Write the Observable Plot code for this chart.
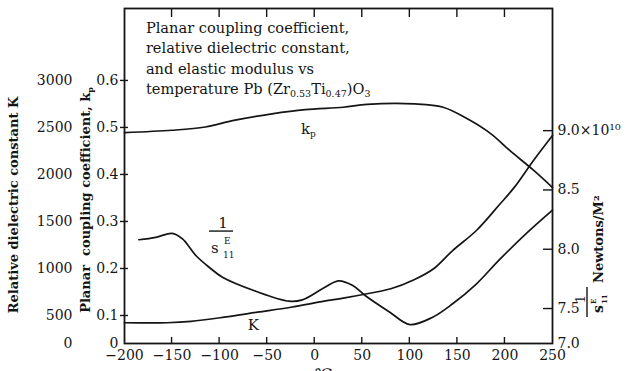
<!DOCTYPE html>
<html><head><meta charset="utf-8">
<script src="https://cdn.jsdelivr.net/npm/d3@7"></script>
<script src="https://cdn.jsdelivr.net/npm/@observablehq/plot@0.6"></script>
<style>
html,body{margin:0;padding:0;background:#fff;}
#wrap{position:relative;width:626px;height:371px;overflow:hidden;background:#fff;}
#wrap svg{position:absolute;left:0;top:0;}
</style></head><body><div id="wrap"></div>
<script>
// ---------- data ----------
// Planar coupling coefficient kp vs temperature (°C)
const kpTemp  = [-200, -150, -115, -85, -45, -10, 30, 55, 105, 135, 160, 185, 205, 230, 250];
const kpValue = [0.489, 0.494, 0.501, 0.515, 0.529, 0.538, 0.543, 0.549, 0.550, 0.543, 0.519, 0.487, 0.451, 0.409, 0.372];
// Relative dielectric constant K vs temperature
const kTemp  = [-200, -155, -130, -95, -60, -25, 10, 30, 55, 80, 105, 125, 145, 170, 195, 210, 230, 250];
const kValue = [370, 370, 395, 470, 535, 588, 652, 684, 731, 784, 883, 997, 1191, 1404, 1688, 1865, 2149, 2415];
// Elastic modulus 1/s^E_11 (×10^10 N/m²) vs temperature
const sTemp  = [-185, -167, -150, -139, -125, -111, -97, -62, -27, -13, 8, 25, 40, 53, 79, 100, 124, 145, 169, 194, 222, 250];
const sValue = [8.08, 8.10, 8.134, 8.087, 7.947, 7.848, 7.764, 7.646, 7.562, 7.573, 7.666, 7.733, 7.694, 7.61, 7.447, 7.271, 7.376, 7.54, 7.70, 7.91, 8.13, 8.33];

const xTicks = [-200, -150, -100, -50, 0, 50, 100, 150, 200, 250];
const xTickLabels = ["−200", "−150", "−100", "−50", "0", "50", "100", "150", "200", "250"];
const kTicks = [0, 500, 1000, 1500, 2000, 2500, 3000];
const kTickLabels = ["0", "500", "1000", "1500", "2000", "2500", "3000"];
const kpTickLabels = ["0", "0.1", "0.2", "0.3", "0.4", "0.5", "0.6"];
const modTicks = [7.0, 7.5, 8.0, 8.5, 9.0];
const modTickLabels = ["7.0", "7.5", "8.0", "8.5", "9.0×10¹⁰"];
const titleLines = ["Planar coupling coefficient,", "relative dielectric constant,", "and elastic modulus vs"];
const K_PER_KP = 5000; // left axes: K = 5000 · kp

// ---------- layout ----------
const W = 626, H = 371, INK = "#151515";
const ML = 124, MR = 74, MT = 8, MB = 28;
const XR = [ML, W - MR];
const FONT = "DejaVu Serif";

// both vertical axes are compressed below their first tick (0→500 and 7.0→7.5)
const squeeze = (brk, f) => v => (v >= brk ? v : brk - (brk - v) * f);
const leftT = squeeze(500, 28 / 47);
const rightT = squeeze(7.5, 35 / 59.35);

const kpRows = kpTemp.map((t, i) => ({t, v: kpValue[i] * K_PER_KP}));
const kRows  = kTemp.map((t, i) => ({t, v: kValue[i]}));
const sRows  = sTemp.map((t, i) => ({t, v: sValue[i]}));
const inner = xTicks.slice(1, -1);
const ident = d => d;

const common = {
  width: W, height: H, marginLeft: ML, marginRight: MR, marginTop: MT, marginBottom: MB,
  style: {fontFamily: FONT, fontSize: "14px", background: "transparent", color: INK, overflow: "visible"}
};

const p1 = Plot.plot({
  ...common,
  x: {domain: [-200, 250], range: XR, label: null, axis: null},
  y: {transform: leftT, domain: [leftT(0), 3765], range: [H - MB, MT], label: null, axis: null},
  marks: [
    Plot.frame({stroke: INK, strokeWidth: 1.8}),
    Plot.text(xTicks, {x: ident, text: (d, i) => xTickLabels[i], frameAnchor: "bottom", dy: 12, lineAnchor: "middle", fontSize: 14}),
    Plot.text(kTicks, {y: ident, text: (d, i) => kTickLabels[i], frameAnchor: "left", dx: -52, textAnchor: "end", fontSize: 14}),
    Plot.text(kTicks, {y: ident, text: (d, i) => kpTickLabels[i], frameAnchor: "left", dx: -6, textAnchor: "end", fontSize: 14}),
    Plot.axisY({ticks: kTicks.slice(1), tickSize: 8, dx: 4, tickFormat: () => "", label: null, strokeWidth: 1.4}),
    Plot.line(kpRows, {x: "t", y: "v", curve: "catmull-rom", stroke: INK, strokeWidth: 1.7}),
    Plot.line(kRows, {x: "t", y: "v", curve: "catmull-rom", stroke: INK, strokeWidth: 1.7})
  ]
});

const p2 = Plot.plot({
  ...common,
  x: {domain: [-200, 250], range: XR, label: null, axis: null},
  y: {transform: rightT, domain: [rightT(7.0), 10.03], range: [H - MB, MT], label: null, axis: null},
  marks: [
    Plot.text(modTicks, {y: ident, text: (d, i) => modTickLabels[i], frameAnchor: "right", dx: 5, textAnchor: "start", fontSize: 14}),
    Plot.axisY({anchor: "right", ticks: modTicks.slice(1), tickSize: 10, dx: -10, tickFormat: () => "", label: null, strokeWidth: 1.4}),
    Plot.line(sRows, {x: "t", y: "v", curve: "catmull-rom", stroke: INK, strokeWidth: 1.7})
  ]
});

const wrap = document.getElementById("wrap");
wrap.appendChild(p1);
wrap.appendChild(p2);

// ---------- annotations ----------
const sx = p1.scale("x"), sy1 = p1.scale("y"), sy2 = p2.scale("y");
const svg = d3.select(p1);
const g = svg.append("g").attr("fill", INK).attr("font-family", FONT).attr("text-anchor", "start");

// inward x ticks along the bottom and top edges, placed by the x scale
const tk = g.append("g").attr("stroke", INK).attr("stroke-width", 1.4);
inner.forEach(t => {
  const x = sx.apply(t);
  tk.append("line").attr("x1", x).attr("x2", x).attr("y1", H - MB).attr("y2", H - MB - 6);
  tk.append("line").attr("x1", x).attr("x2", x).attr("y1", MT).attr("y2", MT + 9);
});

// title block inside the frame
const tx = sx.apply(-177);
titleLines.forEach((s, i) => {
  g.append("text").attr("x", tx).attr("y", 33 + i * 20.3).attr("font-size", 14.6).text(s);
});
const t4 = g.append("text").attr("x", tx).attr("y", 33 + 3 * 20.3).attr("font-size", 14.6);
t4.append("tspan").text("temperature Pb (Zr");
t4.append("tspan").attr("font-size", 9.5).attr("dy", 3).text("0.53");
t4.append("tspan").attr("dy", -3).text("Ti");
t4.append("tspan").attr("font-size", 9.5).attr("dy", 3).text("0.47");
t4.append("tspan").attr("dy", -3).text(")O");
t4.append("tspan").attr("font-size", 9.5).attr("dy", 3).text("3");

// curve labels
const kpL = g.append("text").attr("x", sx.apply(-14)).attr("y", sy1.apply(0.485 * K_PER_KP)).attr("font-size", 15);
kpL.append("tspan").text("k");
kpL.append("tspan").attr("font-size", 9).attr("dy", 3).text("p");

g.append("text").attr("x", sx.apply(-70)).attr("y", sy1.apply(500) + 15).attr("font-size", 15).text("K");

// 1 / s^E_11 label
const fx = sx.apply(-98), fy = sy2.apply(8.149);
g.append("text").attr("x", fx + 2).attr("y", fy - 3).attr("font-size", 15).attr("text-anchor", "middle").text("1");
g.append("line").attr("x1", fx - 12).attr("x2", fx + 12).attr("y1", fy).attr("y2", fy).attr("stroke", INK).attr("stroke-width", 1.4);
g.append("text").attr("x", fx - 10).attr("y", fy + 22).attr("font-size", 15).text("s");
g.append("text").attr("x", fx + 3).attr("y", fy + 13).attr("font-size", 9).text("E");
g.append("text").attr("x", fx + 2).attr("y", fy + 27).attr("font-size", 9).text("11");

// left axis titles
g.append("text").attr("transform", "translate(18,205) rotate(-90)").attr("text-anchor", "middle")
  .attr("font-size", 13).attr("font-weight", "bold").text("Relative dielectric constant K");
const pl = g.append("text").attr("transform", "translate(90,200) rotate(-90)").attr("text-anchor", "middle")
  .attr("font-size", 13).attr("font-weight", "bold");
pl.append("tspan").text("Planar\u00a0\u00a0coupling coefficient, k");
pl.append("tspan").attr("font-size", 8).attr("dy", 3).text("p");

// right axis title (rotated)
const rg = g.append("g").attr("transform", "translate(603,313) rotate(-90)");
rg.append("text").attr("x", 0).attr("y", 0).attr("font-size", 14).attr("font-weight", "bold").text("s");
rg.append("text").attr("x", 9).attr("y", -7).attr("font-size", 7).attr("font-weight", "bold").text("E");
rg.append("text").attr("x", 9).attr("y", 4).attr("font-size", 7).attr("font-weight", "bold").text("11");
rg.append("line").attr("x1", -4).attr("x2", 26).attr("y1", -16).attr("y2", -16).attr("stroke", INK).attr("stroke-width", 1.4);
rg.append("text").attr("x", 14).attr("y", -18).attr("font-size", 13).attr("text-anchor", "middle").text("1");
rg.append("text").attr("x", 30).attr("y", 0).attr("font-size", 13).attr("font-weight", "bold").text("Newtons/M²");

// unit glyph cut off at the bottom edge
g.append("text").attr("x", sx.apply(10)).attr("y", 380).attr("font-size", 16).attr("text-anchor", "middle").text("℃");
</script></body></html>
